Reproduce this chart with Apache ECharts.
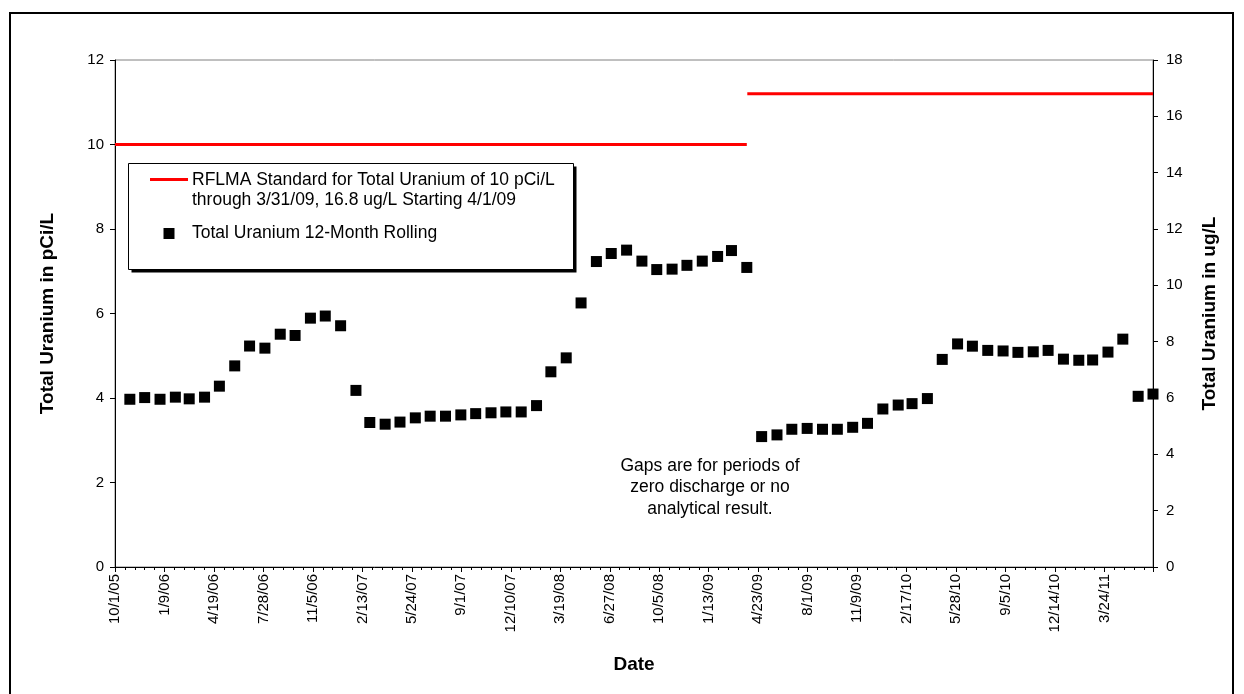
<!DOCTYPE html>
<html>
<head>
<meta charset="utf-8">
<script src="https://cdn.jsdelivr.net/npm/echarts@6/dist/echarts.min.js"></script>
<style>
html,body{margin:0;padding:0;background:#fff;}
#chart{width:1244px;height:694px;}
</style>
</head>
<body>
<div id="chart"></div>
<script>
// ---- data ----
const axisStartDate = '2005-10-01';
const axisEndDate = '2011-06-30';
const tickIntervalDays = 100;

const stdName = 'RFLMA Standard for Total Uranium of 10 pCi/L through 3/31/09, 16.8 ug/L Starting 4/1/09';
const ptName = 'Total Uranium 12-Month Rolling';

// Standard: 10 pCi/L through 3/31/09 (left axis), 16.8 ug/L from 4/1/09 (right axis)
const stdPciDates = ['2005-10-01', '2009-03-31'];
const stdPciValues = [10, 10];
const stdUgDates = ['2009-04-01', '2011-06-30'];
const stdUgValues = [16.8, 16.8];

// 12-month rolling values, pCi/L (left axis), month-end dates
const pciDates = [
  '2005-10-31','2005-11-30','2005-12-31',
  '2006-01-31','2006-02-28','2006-03-31','2006-04-30','2006-05-31','2006-06-30',
  '2006-07-31','2006-08-31','2006-09-30','2006-10-31','2006-11-30','2006-12-31',
  '2007-01-31','2007-02-28','2007-03-31','2007-04-30','2007-05-31','2007-06-30',
  '2007-07-31','2007-08-31','2007-09-30','2007-10-31','2007-11-30','2007-12-31',
  '2008-01-31','2008-02-29','2008-03-31','2008-04-30','2008-05-31','2008-06-30',
  '2008-07-31','2008-08-31','2008-09-30','2008-10-31','2008-11-30','2008-12-31',
  '2009-01-31','2009-02-28','2009-03-31'
];
const pciValues = [
  3.97, 4.01, 3.97,
  4.02, 3.98, 4.02, 4.28, 4.76, 5.23, 5.18, 5.51, 5.48, 5.89, 5.94, 5.71,
  4.18, 3.42, 3.38, 3.43, 3.53, 3.57, 3.57, 3.60, 3.63, 3.65, 3.67, 3.67,
  3.82, 4.62, 4.95, 6.25, 7.23, 7.42, 7.50, 7.24, 7.04, 7.05, 7.14, 7.24,
  7.35, 7.49, 7.09
];

// 12-month rolling values, ug/L (right axis)
const ugDates = [
  '2009-04-30','2009-05-31','2009-06-30','2009-07-31','2009-08-31','2009-09-30',
  '2009-10-31','2009-11-30','2009-12-31',
  '2010-01-31','2010-02-28','2010-03-31','2010-04-30','2010-05-31','2010-06-30',
  '2010-07-31','2010-08-31','2010-09-30','2010-10-31','2010-11-30','2010-12-31',
  '2011-01-31','2011-02-28','2011-03-31','2011-04-30','2011-05-31','2011-06-30'
];
const ugValues = [
  4.63, 4.69, 4.89, 4.92, 4.89, 4.89, 4.96, 5.10, 5.61,
  5.75, 5.80, 5.98, 7.37, 7.92, 7.84, 7.69, 7.67, 7.62, 7.64, 7.69, 7.38,
  7.34, 7.35, 7.63, 8.09, 6.06, 6.14
];

const annotationLines = ['Gaps are for periods of', 'zero discharge or no', 'analytical result.'];

// ---- helpers ----
function toUTC(s){ const p = s.split('-').map(Number); return Date.UTC(p[0], p[1]-1, p[2]); }
const baseMs = toUTC(axisStartDate);
function dayOffset(s){ return Math.round((toUTC(s) - baseMs) / 86400000); }
function fmtDay(d){
  const dt = new Date(baseMs + d * 86400000);
  return (dt.getUTCMonth()+1) + '/' + dt.getUTCDate() + '/' + String(dt.getUTCFullYear()).slice(2);
}
function pairs(dates, vals){ return dates.map((d,i)=>[dayOffset(d), vals[i]]); }

const FONT = '"Liberation Sans", Arial, sans-serif';
const TXT = '17.5px ' + FONT;

const chart = echarts.init(document.getElementById('chart'), null, {renderer:'canvas'});
chart.setOption({
  animation: false,
  backgroundColor: '#ffffff',
  grid: {left: 115, right: 91, top: 60, bottom: 127, show: true, borderColor: '#808080', borderWidth: 1, backgroundColor: 'transparent'},
  xAxis: {
    type: 'value', min: 0, max: dayOffset(axisEndDate), interval: tickIntervalDays,
    name: 'Date', nameLocation: 'middle', nameGap: 88,
    nameTextStyle: {fontFamily: FONT, fontSize: 19, fontWeight: 'bold', color: '#000'},
    axisLine: {show: true, onZero: false, lineStyle: {color: '#000', width: 1}},
    axisTick: {show: true, length: 5, lineStyle: {color: '#000'}},
    minorTick: {show: true, splitNumber: 5, length: 3, lineStyle: {color: '#000'}},
    splitLine: {show: false},
    axisLabel: {rotate: 90, margin: 7, fontFamily: FONT, fontSize: 15, color: '#000',
      showMaxLabel: false,
      formatter: v => (Math.round(v) % tickIntervalDays === 0 ? fmtDay(Math.round(v)) : '')}
  },
  yAxis: [
    {
      type: 'value', min: 0, max: 12, interval: 2, position: 'left',
      name: 'Total Uranium in pCi/L', nameLocation: 'middle', nameGap: 58, nameRotate: 90,
      nameTextStyle: {fontFamily: FONT, fontSize: 19, fontWeight: 'bold', color: '#000'},
      axisLine: {show: true, lineStyle: {color: '#000', width: 1}},
      axisTick: {show: true, length: 5, lineStyle: {color: '#000'}},
      splitLine: {show: false},
      axisLabel: {margin: 11, fontFamily: FONT, fontSize: 15, color: '#000'}
    },
    {
      type: 'value', min: 0, max: 18, interval: 2, position: 'right',
      name: 'Total Uranium in ug/L', nameLocation: 'middle', nameGap: 47, nameRotate: 90,
      nameTextStyle: {fontFamily: FONT, fontSize: 19, fontWeight: 'bold', color: '#000'},
      axisLine: {show: true, lineStyle: {color: '#000', width: 1}},
      axisTick: {show: true, length: 5, lineStyle: {color: '#000'}},
      splitLine: {show: false},
      axisLabel: {margin: 13, fontFamily: FONT, fontSize: 15, color: '#000'}
    }
  ],
  legend: {show: false, data: [stdName, ptName]},
  series: [
    {name: stdName, type: 'line', yAxisIndex: 0, data: pairs(stdPciDates, stdPciValues),
     symbol: 'none', lineStyle: {color: '#ff0000', width: 3}, itemStyle: {color: '#ff0000'}, clip: false, z: 2},
    {name: stdName, type: 'line', yAxisIndex: 1, data: pairs(stdUgDates, stdUgValues),
     symbol: 'none', lineStyle: {color: '#ff0000', width: 3}, itemStyle: {color: '#ff0000'}, clip: false, z: 2},
    {name: ptName, type: 'scatter', yAxisIndex: 0, data: pairs(pciDates, pciValues),
     symbol: 'rect', symbolSize: 11, itemStyle: {color: '#000', opacity: 1}, z: 3},
    {name: ptName, type: 'scatter', yAxisIndex: 1, data: pairs(ugDates, ugValues),
     symbol: 'rect', symbolSize: 11, itemStyle: {color: '#000', opacity: 1}, z: 3}
  ],
  graphic: [
    {type: 'rect', silent: true, z: 0, shape: {x: 10, y: 13, width: 1223, height: 700},
     style: {fill: 'none', stroke: '#000', lineWidth: 2}},
    {type: 'group', z: 100, children: [
      {type: 'rect', shape: {x: 131.5, y: 166.5, width: 445, height: 106}, style: {fill: '#000'}},
      {type: 'rect', shape: {x: 128.5, y: 163.5, width: 445, height: 106},
       style: {fill: '#fff', stroke: '#000', lineWidth: 1}},
      {type: 'line', shape: {x1: 150, y1: 179.5, x2: 188, y2: 179.5}, style: {stroke: '#ff0000', lineWidth: 3}},
      {type: 'text', x: 192, y: 180, style: {text: 'RFLMA Standard for Total Uranium of 10 pCi/L', font: TXT, fill: '#000', verticalAlign: 'middle', textAlign: 'left'}},
      {type: 'text', x: 192, y: 200, style: {text: 'through 3/31/09, 16.8 ug/L Starting 4/1/09', font: TXT, fill: '#000', verticalAlign: 'middle', textAlign: 'left'}},
      {type: 'rect', shape: {x: 163.5, y: 228, width: 11, height: 11}, style: {fill: '#000'}},
      {type: 'text', x: 192, y: 233.5, style: {text: ptName, font: TXT, fill: '#000', verticalAlign: 'middle', textAlign: 'left'}}
    ]},
    {type: 'text', z: 100, x: 710, y: 466, style: {text: annotationLines[0], font: TXT, fill: '#000', textAlign: 'center', verticalAlign: 'middle'}},
    {type: 'text', z: 100, x: 710, y: 487.5, style: {text: annotationLines[1], font: TXT, fill: '#000', textAlign: 'center', verticalAlign: 'middle'}},
    {type: 'text', z: 100, x: 710, y: 509, style: {text: annotationLines[2], font: TXT, fill: '#000', textAlign: 'center', verticalAlign: 'middle'}}
  ]
});
</script>
</body>
</html>
